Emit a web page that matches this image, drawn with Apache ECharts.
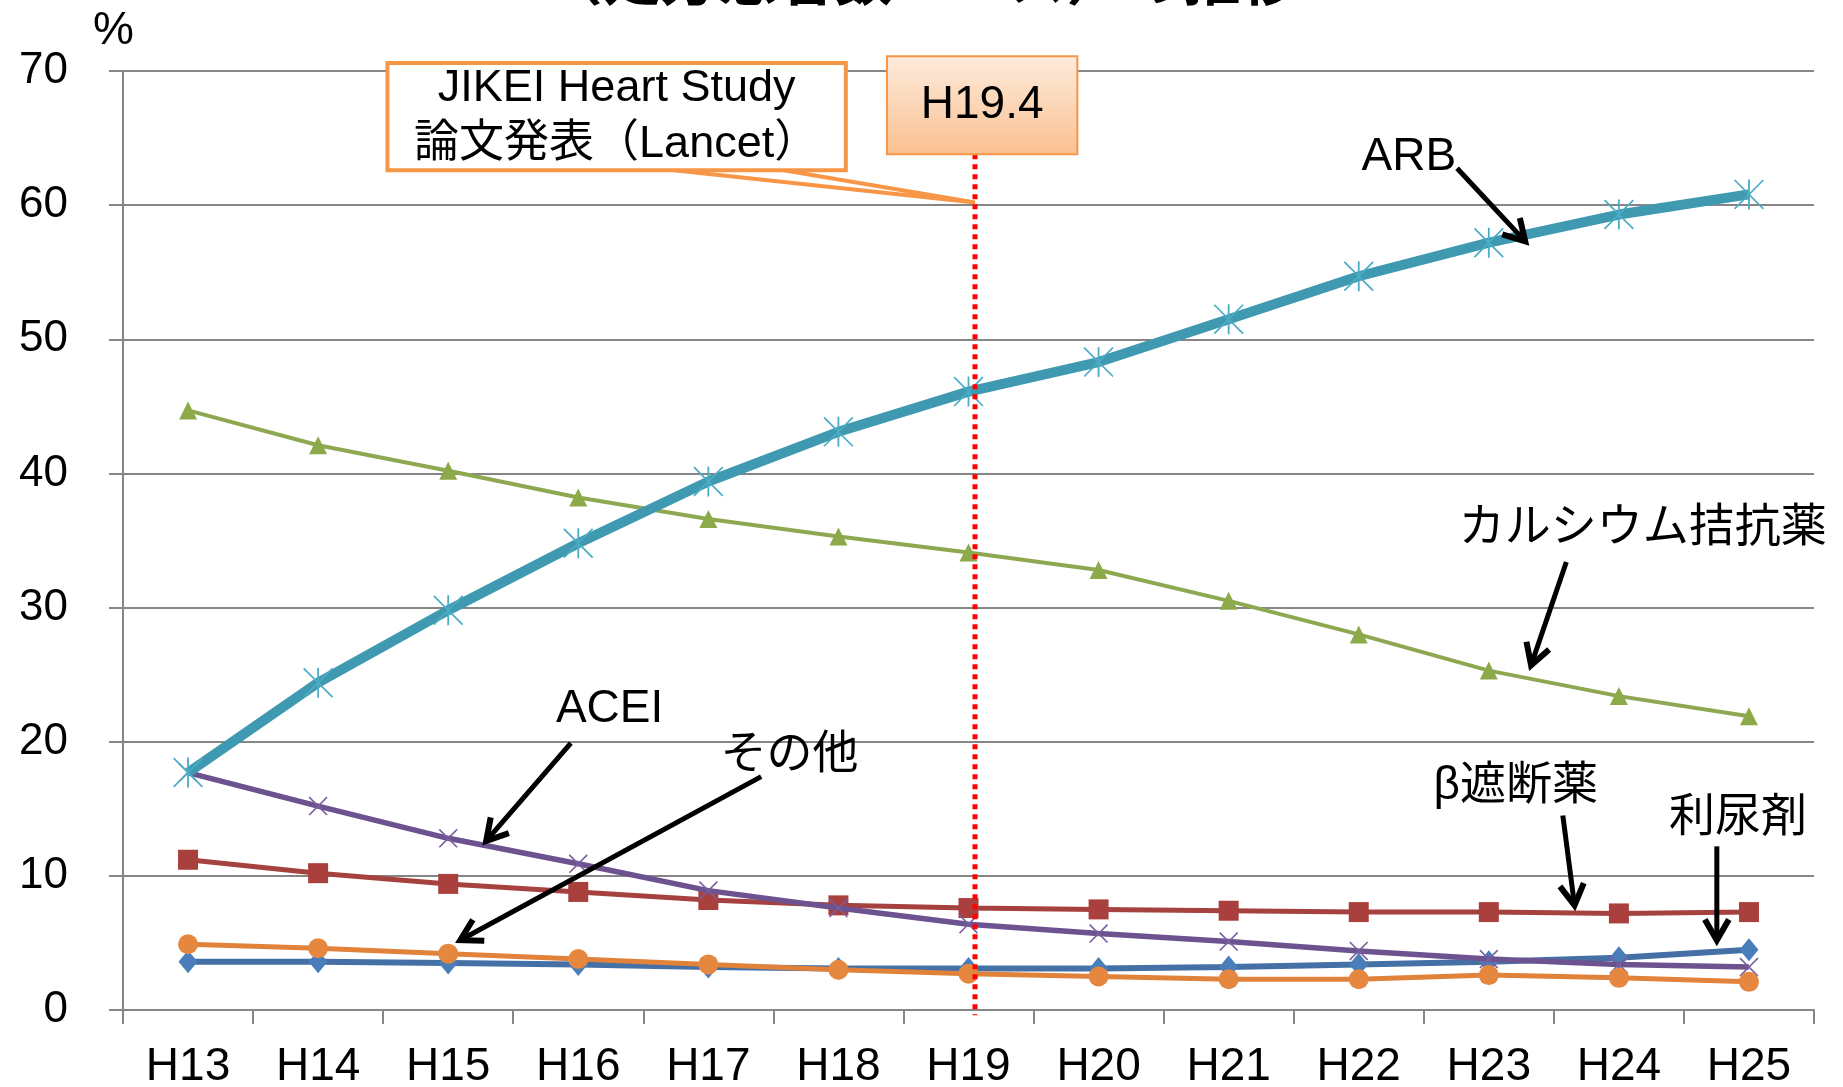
<!DOCTYPE html>
<html>
<head>
<meta charset="utf-8">
<title>降圧薬の推移</title>
<script src="https://cdn.jsdelivr.net/npm/echarts@6/dist/echarts.min.js"></script>
<style>
  html, body { margin: 0; padding: 0; background: #fff; }
  #chart { width: 1843px; height: 1087px; }
</style>
</head>
<body>
<div id="chart"></div>
<script>
// 年度
const years = ['H13', 'H14', 'H15', 'H16', 'H17', 'H18', 'H19', 'H20', 'H21', 'H22', 'H23', 'H24', 'H25']
// 各薬剤の割合 (%)
const arb = [17.7, 24.4, 29.8, 34.8, 39.4, 43.1, 46.1, 48.3, 51.5, 54.7, 57.2, 59.3, 60.8]
const calcium = [44.7, 42.1, 40.2, 38.2, 36.6, 35.3, 34.1, 32.8, 30.5, 28.0, 25.3, 23.4, 21.9]
const acei = [17.7, 15.2, 12.8, 10.9, 8.9, 7.6, 6.4, 5.7, 5.1, 4.4, 3.8, 3.4, 3.2]
const beta = [11.2, 10.2, 9.4, 8.8, 8.2, 7.8, 7.6, 7.5, 7.4, 7.3, 7.3, 7.2, 7.3]
const diuretic = [3.6, 3.6, 3.5, 3.4, 3.2, 3.1, 3.1, 3.1, 3.2, 3.4, 3.6, 3.9, 4.5]
const other = [4.9, 4.6, 4.2, 3.8, 3.4, 3.0, 2.7, 2.5, 2.3, 2.3, 2.6, 2.4, 2.1]
// y軸
const yTicks = [0, 10, 20, 30, 40, 50, 60, 70]

const FONT = "'Liberation Sans', Arial, 'Noto Sans CJK JP', sans-serif"
const JP = "'Liberation Sans', 'Noto Sans CJK JP', sans-serif"

// 注釈の位置 (x: 年度の位置 0〜13, y: %)
const eventX = 6.55
const labels = [
  { text: 'ARB', x: 9.885, y: 63.6, from: [10.256, 62.75], to: [10.78, 57.3] },
  { text: 'カルシウム拮抗薬', x: 11.683, y: 35.9, from: [11.096, 33.4], to: [10.825, 25.7] },
  { text: 'ACEI', x: 3.741, y: 22.4, from: [3.443, 19.9], to: [2.792, 12.6] },
  { text: 'その他', x: 5.123, y: 19.0, from: [4.906, 17.4], to: [2.593, 5.2] },
  { text: 'β遮断薬', x: 10.707, y: 16.7, from: [11.069, 14.5], to: [11.159, 7.8] },
  { text: '利尿剤', x: 12.415, y: 14.3, from: [12.253, 12.2], to: [12.253, 5.2] }
]

const starPath = 'path://M47 0L53 0L53 100L47 100Z M0 4L4 0L100 96L96 100Z M96 0L100 4L4 100L0 96Z'
const crossPath = 'path://M0 6L6 0L50 44L94 0L100 6L56 50L100 94L94 100L50 56L6 100L0 94L44 50Z'

let chart = echarts.init(document.getElementById('chart'))

function lineSeries (name, data, color, markColor, width, symbol, size, z) {
  return {
    name: name,
    type: 'line',
    data: data,
    symbol: symbol,
    symbolSize: size,
    showSymbol: true,
    z: z,
    lineStyle: { color: color, width: width },
    itemStyle: { color: markColor },
    emphasis: { disabled: true }
  }
}

let option = {
  animation: false,
  grid: { left: 123, right: 29, top: 71, bottom: 77, outerBoundsMode: 'none', containLabel: false },
  xAxis: {
    type: 'category',
    data: years,
    boundaryGap: true,
    axisLine: { lineStyle: { color: '#868686', width: 2 } },
    axisTick: { show: true, length: 14, lineStyle: { color: '#868686', width: 2 } },
    axisLabel: { color: '#000', fontSize: 46, fontFamily: FONT, margin: 34 },
    splitLine: { show: false }
  },
  yAxis: {
    type: 'value',
    min: 0,
    max: 70,
    interval: 10,
    axisLine: { show: true, lineStyle: { color: '#868686', width: 2 } },
    axisTick: { show: true, length: 14, lineStyle: { color: '#868686', width: 2 } },
    axisLabel: {
      color: '#000', fontSize: 44, fontFamily: FONT, margin: 55,
      formatter: v => yTicks.indexOf(v) >= 0 ? String(v) : ''
    },
    splitLine: { show: true, lineStyle: { color: '#868686', width: 2 } }
  },
  series: [
    lineSeries('利尿剤', diuretic, '#4470A6', '#4A7EBB', 6, 'diamond', [19, 23], 2),
    lineSeries('β遮断薬', beta, '#A5413E', '#A9403D', 5, 'rect', 20, 3),
    lineSeries('ACEI', acei, '#6C5390', '#7A5EA0', 5.5, crossPath, 19, 4),
    lineSeries('カルシウム拮抗薬', calcium, '#8EA852', '#8CAA4A', 4, 'triangle', 18, 5),
    lineSeries('ARB', arb, '#3F99B0', '#4BACC6', 10, starPath, 30, 6),
    lineSeries('その他', other, '#E0823A', '#E5873E', 5, 'circle', 20, 7)
  ]
}

chart.setOption(option)

function drawNotes () {
  let x0 = chart.convertToPixel({ xAxisIndex: 0 }, years[0])
  let x12 = chart.convertToPixel({ xAxisIndex: 0 }, years[12])
  let step = (x12 - x0) / 12
  let px = v => x0 + (v - 0.5) * step
  let py = v => chart.convertToPixel({ yAxisIndex: 0 }, v)
  let items = []

  // タイトル (上部が切れている)
  items.push({
    type: 'text', left: 'center', top: -45, z: 100,
    style: { text: '（処方患者数ベース）の推移', fontSize: 58, fontWeight: 'bold', fontFamily: JP, fill: '#000' }
  })
  // % 単位
  items.push({
    type: 'text', x: 93, y: 8, z: 100,
    style: { text: '%', fontSize: 46, fontFamily: FONT, fill: '#000' }
  })

  // 赤い点線 H19.4
  items.push({
    type: 'line', z: 120,
    shape: { x1: px(eventX), y1: py(63.8), x2: px(eventX), y2: py(-0.4) },
    style: { stroke: '#FF0000', lineWidth: 5, lineDash: [5, 5] }
  })

  // JIKEI 吹き出し
  let bx1 = px(2.033), bx2 = px(5.557), by1 = py(70.6), by2 = py(62.6)
  items.push({
    type: 'polygon', z: 110,
    shape: { points: [[px(4.093), by2 - 2], [px(eventX), py(60.2)], [px(4.988), by2 - 2]] },
    style: { fill: '#fff', stroke: '#F79646', lineWidth: 4 }
  })
  items.push({
    type: 'rect', z: 111,
    shape: { x: bx1, y: by1, width: bx2 - bx1, height: by2 - by1 },
    style: { fill: '#fff', stroke: '#F79646', lineWidth: 4 }
  })
  items.push({
    type: 'text', z: 112, x: (bx1 + bx2) / 2, y: (by1 + by2) / 2,
    style: {
      text: 'JIKEI Heart Study\n論文発表（Lancet）', fontSize: 45, lineHeight: 56,
      fontFamily: JP, fill: '#000', align: 'center', verticalAlign: 'middle'
    }
  })

  // H19.4 ボックス
  let hx1 = px(5.873), hx2 = px(7.337), hy1 = py(71.1), hy2 = py(63.8)
  items.push({
    type: 'rect', z: 121,
    shape: { x: hx1, y: hy1, width: hx2 - hx1, height: hy2 - hy1 },
    style: {
      fill: new echarts.graphic.LinearGradient(0, 0, 0, 1, [
        { offset: 0, color: '#FDEBDD' },
        { offset: 1, color: '#FAC08F' }
      ]),
      stroke: '#F79646', lineWidth: 2
    }
  })
  items.push({
    type: 'text', z: 122, x: (hx1 + hx2) / 2, y: (hy1 + hy2) / 2,
    style: { text: 'H19.4', fontSize: 46, fontFamily: FONT, fill: '#000', align: 'center', verticalAlign: 'middle' }
  })

  // ラベルと矢印
  labels.forEach(l => {
    items.push({
      type: 'text', z: 130, x: px(l.x), y: py(l.y),
      style: { text: l.text, fontSize: 46, fontFamily: JP, fill: '#000', align: 'center', verticalAlign: 'middle' }
    })
    let sx = px(l.from[0]), sy = py(l.from[1])
    let ex = px(l.to[0]), ey = py(l.to[1])
    let len = Math.hypot(ex - sx, ey - sy)
    let dx = (ex - sx) / len, dy = (ey - sy) / len
    let wing = 24, a = Math.PI / 6
    let w1 = [ex - wing * (dx * Math.cos(a) - dy * Math.sin(a)), ey - wing * (dx * Math.sin(a) + dy * Math.cos(a))]
    let w2 = [ex - wing * (dx * Math.cos(-a) - dy * Math.sin(-a)), ey - wing * (dx * Math.sin(-a) + dy * Math.cos(-a))]
    items.push({
      type: 'line', z: 130,
      shape: { x1: sx, y1: sy, x2: ex - dx * 3, y2: ey - dy * 3 },
      style: { stroke: '#000', lineWidth: 5 }
    })
    items.push({
      type: 'polyline', z: 130,
      shape: { points: [w1, [ex, ey], w2] },
      style: { stroke: '#000', lineWidth: 6, fill: null, lineJoin: 'miter' }
    })
  })

  chart.setOption({ graphic: items })
}

drawNotes()
</script>
</body>
</html>
